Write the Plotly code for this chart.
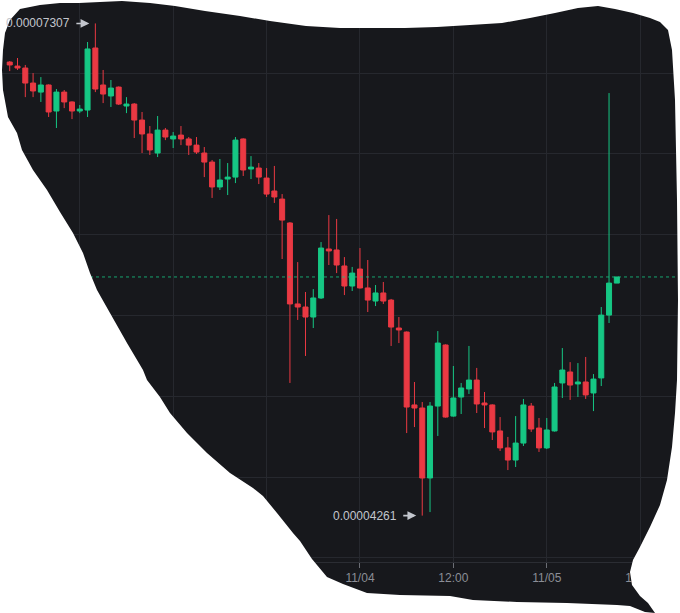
import plotly.graph_objects as go
import pandas as pd

# ---- data (hourly candles) ----
times = pd.date_range("2024-11-02 03:00", periods=79, freq="h")

open_ = [70.68e-6, 70.43e-6, 70.31e-6, 69.38e-6, 68.82e-6, 69.26e-6, 67.65e-6, 68.82e-6, 68.21e-6, 67.65e-6,
         67.71e-6, 71.55e-6, 69.26e-6, 68.58e-6, 69.13e-6, 67.96e-6, 68.08e-6, 67.09e-6, 66.23e-6, 65.05e-6,
         66.47e-6, 65.92e-6, 66.16e-6, 65.92e-6, 65.54e-6, 65.05e-6, 64.49e-6, 62.95e-6, 63.44e-6, 63.56e-6,
         65.92e-6, 64.06e-6, 64.12e-6, 63.50e-6, 62.70e-6, 62.20e-6, 60.72e-6, 55.71e-6, 55.52e-6, 54.90e-6,
         56.08e-6, 59.11e-6, 59.05e-6, 58.06e-6, 56.82e-6, 57.87e-6, 56.70e-6, 55.89e-6, 56.39e-6, 55.95e-6,
         54.22e-6, 53.97e-6, 49.46e-6, 49.27e-6, 44.94e-6, 49.39e-6, 53.17e-6, 48.77e-6, 49.95e-6, 50.45e-6,
         51.00e-6, 49.58e-6, 49.46e-6, 47.85e-6, 46.80e-6, 46.05e-6, 47.10e-6, 49.39e-6, 48.03e-6, 46.80e-6,
         47.85e-6, 50.82e-6, 51.50e-6, 50.76e-6, 50.88e-6, 50.20e-6, 51.13e-6, 55.02e-6, 57.00e-6]
high = [70.74e-6, 70.93e-6, 70.50e-6, 70.00e-6, 69.75e-6, 69.30e-6, 69.01e-6, 68.95e-6, 68.25e-6, 68.02e-6,
        71.92e-6, 73.07e-6, 70.19e-6, 69.57e-6, 69.17e-6, 68.51e-6, 68.14e-6, 67.59e-6, 66.72e-6, 67.34e-6,
        66.60e-6, 66.35e-6, 66.72e-6, 66.04e-6, 66.04e-6, 65.42e-6, 64.62e-6, 64.68e-6, 64.43e-6, 66.04e-6,
        65.96e-6, 64.86e-6, 64.43e-6, 64.12e-6, 64.25e-6, 62.51e-6, 60.78e-6, 58.30e-6, 56.45e-6, 56.63e-6,
        59.54e-6, 61.21e-6, 60.97e-6, 58.61e-6, 58.00e-6, 59.17e-6, 58.43e-6, 56.88e-6, 57.07e-6, 56.02e-6,
        54.90e-6, 54.01e-6, 50.88e-6, 49.64e-6, 49.64e-6, 54.03e-6, 53.21e-6, 51.87e-6, 50.82e-6, 53.11e-6,
        51.75e-6, 50.26e-6, 49.50e-6, 48.71e-6, 47.48e-6, 48.77e-6, 49.83e-6, 49.58e-6, 48.65e-6, 48.65e-6,
        50.82e-6, 52.98e-6, 52.11e-6, 52.05e-6, 52.43e-6, 51.37e-6, 55.52e-6, 68.76e-6, 57.38e-6]
low = [70.12e-6, 70.19e-6, 68.51e-6, 68.51e-6, 68.21e-6, 67.28e-6, 66.60e-6, 67.83e-6, 67.15e-6, 67.52e-6,
       67.28e-6, 68.82e-6, 68.14e-6, 67.90e-6, 68.02e-6, 67.52e-6, 65.98e-6, 65.05e-6, 64.93e-6, 64.80e-6,
       65.85e-6, 65.36e-6, 65.54e-6, 64.93e-6, 64.99e-6, 63.56e-6, 62.27e-6, 62.76e-6, 62.45e-6, 63.19e-6,
       63.63e-6, 63.44e-6, 63.13e-6, 62.33e-6, 61.96e-6, 58.49e-6, 50.82e-6, 54.72e-6, 52.49e-6, 54.22e-6,
       56.02e-6, 58.12e-6, 57.62e-6, 56.26e-6, 56.51e-6, 56.66e-6, 55.21e-6, 55.58e-6, 55.71e-6, 53.11e-6,
       53.29e-6, 47.72e-6, 48.09e-6, 42.61e-6, 42.83e-6, 47.54e-6, 48.67e-6, 48.73e-6, 48.90e-6, 50.14e-6,
       48.96e-6, 48.03e-6, 47.29e-6, 46.61e-6, 45.43e-6, 45.62e-6, 46.92e-6, 47.79e-6, 46.55e-6, 46.73e-6,
       47.81e-6, 49.89e-6, 49.77e-6, 49.95e-6, 49.83e-6, 49.08e-6, 50.63e-6, 54.53e-6, 57.00e-6]
close = [70.50e-6, 70.31e-6, 69.38e-6, 68.89e-6, 69.26e-6, 67.59e-6, 68.82e-6, 68.21e-6, 67.65e-6, 67.77e-6,
         71.49e-6, 69.01e-6, 68.70e-6, 69.07e-6, 68.08e-6, 68.08e-6, 67.09e-6, 66.23e-6, 65.24e-6, 66.47e-6,
         66.04e-6, 66.10e-6, 65.92e-6, 65.54e-6, 65.11e-6, 64.49e-6, 62.95e-6, 63.38e-6, 63.56e-6, 65.85e-6,
         64.00e-6, 64.18e-6, 63.56e-6, 62.51e-6, 62.33e-6, 60.90e-6, 55.71e-6, 55.52e-6, 54.90e-6, 56.08e-6,
         59.17e-6, 58.99e-6, 58.12e-6, 56.82e-6, 57.62e-6, 56.70e-6, 55.95e-6, 56.39e-6, 55.89e-6, 54.28e-6,
         54.10e-6, 49.33e-6, 49.27e-6, 44.94e-6, 49.39e-6, 53.29e-6, 48.71e-6, 49.89e-6, 50.51e-6, 51.00e-6,
         49.52e-6, 49.46e-6, 47.79e-6, 46.80e-6, 46.05e-6, 47.10e-6, 49.46e-6, 47.97e-6, 46.80e-6, 47.91e-6,
         50.57e-6, 51.62e-6, 50.69e-6, 50.88e-6, 50.08e-6, 51.06e-6, 55.02e-6, 57.00e-6, 57.38e-6]

tick_vals = ["2024-11-02 12:00", "2024-11-03 00:00", "2024-11-03 12:00", "2024-11-04 00:00",
             "2024-11-04 12:00", "2024-11-05 00:00", "2024-11-05 12:00"]
tick_text = ["12:00", "11/03", "12:00", "11/04", "12:00", "11/05", "12:00"]

# ---- style ----
W, H = 680, 613
PLOT_H = 562
BG = "#17181c"
UP = "#16c784"
DOWN = "#ea3943"
GRID = "#26282e"
TXT = "#8b8e96"
LABEL = "#c3c6cd"
FONT = "Liberation Sans, Arial, sans-serif"

fig = go.Figure()
fig.add_trace(go.Candlestick(
    x=times, open=open_, high=high, low=low, close=close,
    increasing=dict(line=dict(color=UP, width=1), fillcolor=UP),
    decreasing=dict(line=dict(color=DOWN, width=1), fillcolor=DOWN),
    whiskerwidth=0, hoverinfo="skip", showlegend=False,
))

# last price dotted line
fig.add_hline(y=close[-1], line=dict(color=UP, width=1, dash="dot"), opacity=0.8)

# high / low markers with arrows
i_hi = high.index(max(high))
i_lo = low.index(min(low))
for i, v in ((i_hi, high[i_hi]), (i_lo, low[i_lo])):
    fig.add_annotation(x=times[i], y=v, text=f"{v:.8f}",
                       showarrow=True, ax=-23, ay=0, axref="pixel", ayref="pixel",
                       xanchor="right", yanchor="middle",
                       arrowhead=2, arrowsize=1.1, arrowwidth=1.6, arrowcolor=LABEL,
                       standoff=6, startstandoff=4,
                       font=dict(family=FONT, size=12, color=LABEL))

# freehand cut-out outline (page pixels) -> white mask outside it
outline = [(20, 9), (40, 5), (60, 3), (79, 3), (100, 2), (122, 1), (150, 3), (175, 6), (205, 11),
           (240, 16), (270, 21), (306, 26), (340, 28), (371, 28), (405, 28), (437, 27), (470, 25),
           (502, 23), (530, 18), (555, 13), (578, 8), (598, 6), (615, 9), (633, 13), (650, 18),
           (660, 22), (668, 30), (672, 50), (675, 100), (677, 200), (678, 300), (677, 380),
           (675, 413), (672, 447), (667, 480), (660, 505), (650, 527), (640, 547), (633, 560),
           (630, 572), (632, 585), (640, 596), (648, 603), (655, 613), (645, 612), (630, 606),
           (617, 605), (567, 603), (517, 602), (473, 600), (450, 596), (400, 595), (367, 593),
           (343, 584), (327, 577), (312, 559), (300, 541), (293, 533), (277, 513), (263, 496),
           (253, 488), (230, 473), (207, 453), (187, 433), (170, 413), (160, 397), (147, 380),
           (143, 370), (127, 343), (110, 313), (97, 290), (90, 273), (83, 253), (73, 233),
           (60, 212), (47, 190), (33, 170), (22, 150), (17, 133), (8, 117), (3, 90), (2, 70),
           (3, 50), (5, 33), (10, 20)]


def px(x, y):
    return f"{x / W:.5f},{(PLOT_H - y) / PLOT_H:.5f}"


outer = f"M{px(-5, -5)} L{px(W + 5, -5)} L{px(W + 5, H + 5)} L{px(-5, H + 5)} Z"
inner = "M" + " L".join(px(x, y) for x, y in outline) + " Z"
fig.add_shape(type="path", xref="paper", yref="paper", path=outer + " " + inner,
              fillcolor="white", line=dict(width=0), fillrule="evenodd", layer="above")

fig.update_layout(
    width=W, height=H,
    margin=dict(l=0, r=0, t=0, b=H - PLOT_H, pad=0),
    paper_bgcolor=BG, plot_bgcolor=BG,
    boxgap=0.3, boxgroupgap=0.08,
    font=dict(family=FONT, size=12, color=TXT),
    hovermode=False,
    xaxis=dict(
        range=["2024-11-02 01:45", "2024-11-05 17:07"],
        rangeslider=dict(visible=False),
        tickvals=tick_vals, ticktext=tick_text,
        showgrid=True, gridcolor=GRID, gridwidth=1,
        ticks="outside", ticklen=5, tickcolor="#6b6e75",
        showline=True, linecolor="#2b2d33", linewidth=1,
        tickfont=dict(size=12, color=TXT), zeroline=False,
    ),
    yaxis=dict(
        range=[39.74e-6, 74.52e-6],
        dtick=5e-6, tick0=0,
        showgrid=True, gridcolor=GRID, gridwidth=1,
        showticklabels=False, zeroline=False, ticks="",
    ),
)

fig.write_html("out.html", config={"displayModeBar": False},
               post_script="document.body.style.margin='0';document.body.style.overflow='hidden';")
